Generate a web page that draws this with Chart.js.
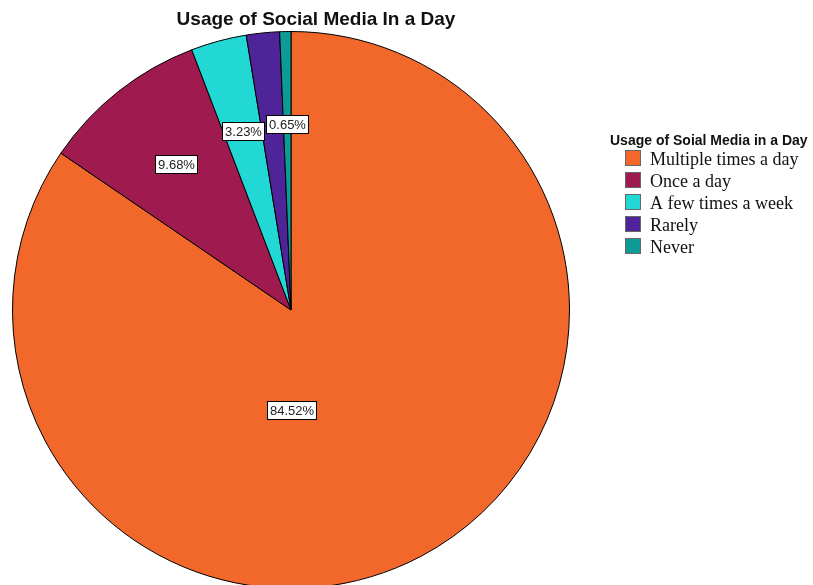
<!DOCTYPE html>
<html>
<head>
<meta charset="utf-8">
<script src="https://cdn.jsdelivr.net/npm/chart.js@4/dist/chart.umd.min.js"></script>
<style>
  html, body { margin: 0; padding: 0; background: #fff; overflow: hidden; }
  #wrap { position: relative; width: 813px; height: 600px; }
</style>
</head>
<body>
<div id="wrap"><canvas id="c" width="813" height="600"></canvas></div>
<script>
// Daily social media usage, percent of respondents
const categories = ['Multiple times a day', 'Once a day', 'A few times a week', 'Rarely', 'Never'];
const percents = [84.52, 9.68, 3.23, 1.92, 0.65];
const sliceColors = ['#F2682B', '#9E1A4F', '#22D8D4', '#4F2499', '#0E9A96'];
const chartTitle = 'Usage of Social Media In a Day';
const legendTitle = 'Usage of Soial Media in a Day';

// Value labels: white boxed text placed inside each slice
const valueLabels = {
  id: 'valueLabels',
  afterDatasetsDraw(chart, args, opts) {
    const ctx = chart.ctx;
    const meta = chart.getDatasetMeta(0);
    ctx.save();
    ctx.font = '13px "Liberation Sans", Arial, sans-serif';
    ctx.textAlign = 'center';
    ctx.textBaseline = 'middle';
    meta.data.forEach((arc, i) => {
      if (opts.hidden.includes(i)) return;
      const p = arc.getProps(['x', 'y', 'startAngle', 'endAngle', 'outerRadius'], true);
      const o = opts.placement[i];
      const ang = o ? o.angle : (p.startAngle + p.endAngle) / 2;
      const rad = (o ? o.radius : opts.radius) * p.outerRadius;
      const cx = p.x + Math.cos(ang) * rad;
      const cy = p.y + Math.sin(ang) * rad;
      const txt = percents[i].toFixed(2) + '%';
      const w = Math.round(ctx.measureText(txt).width) + 5;
      const h = 18;
      const x0 = Math.round(cx - w / 2) + 0.5;
      const y0 = Math.round(cy - h / 2) + 0.5;
      ctx.fillStyle = '#fff';
      ctx.fillRect(x0, y0, w, h);
      ctx.strokeStyle = '#000';
      ctx.lineWidth = 1;
      ctx.strokeRect(x0, y0, w, h);
      ctx.fillStyle = '#222';
      ctx.fillText(txt, x0 + w / 2, y0 + h / 2 + 1);
    });
    ctx.restore();
  }
};

// Title and legend block
const decorations = {
  id: 'decorations',
  afterDraw(chart) {
    const ctx = chart.ctx;
    ctx.save();
    ctx.fillStyle = '#111';
    ctx.textBaseline = 'alphabetic';
    ctx.textAlign = 'center';
    ctx.font = 'bold 19px "Liberation Sans", Arial, sans-serif';
    ctx.fillText(chartTitle, 316, 25);

    ctx.textAlign = 'left';
    ctx.font = 'bold 14px "Liberation Sans", Arial, sans-serif';
    ctx.fillText(legendTitle, 610, 145);

    ctx.font = '18px "Liberation Serif", "Times New Roman", serif';
    categories.forEach((name, i) => {
      const y = 150 + i * 22;
      ctx.fillStyle = sliceColors[i];
      ctx.fillRect(625, y, 16, 16);
      ctx.strokeStyle = '#666';
      ctx.lineWidth = 1;
      ctx.strokeRect(625.5, y + 0.5, 15, 15);
      ctx.fillStyle = '#111';
      ctx.fillText(name, 650, y + 15);
    });
    ctx.restore();
  }
};

new Chart(document.getElementById('c'), {
  type: 'pie',
  data: {
    labels: categories,
    datasets: [{
      data: percents,
      backgroundColor: sliceColors,
      borderColor: '#000',
      borderWidth: 1
    }]
  },
  options: {
    responsive: false,
    animation: false,
    layout: { padding: { top: 31, left: 12, right: 243, bottom: 11 } },
    plugins: {
      legend: { display: false },
      title: { display: false },
      tooltip: { enabled: false },
      valueLabels: {
        radius: 2 / 3,
        hidden: [3],
        placement: { 0: { angle: Math.PI / 2, radius: 0.36 } }
      }
    }
  },
  plugins: [valueLabels, decorations]
});
</script>
</body>
</html>
